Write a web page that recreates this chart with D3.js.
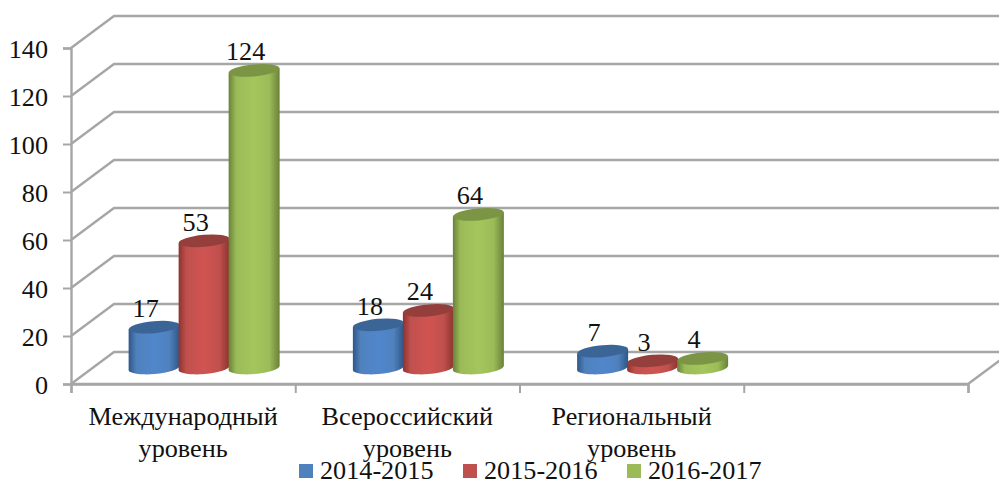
<!DOCTYPE html>
<html><head><meta charset="utf-8">
<script src="https://cdn.jsdelivr.net/npm/d3@7"></script>
<style>
html,body{margin:0;padding:0;background:#fff;overflow:hidden}
svg{display:block}
text{font-family:"Liberation Serif","Times New Roman",serif;font-size:26.2px;fill:#111}
</style></head><body>
<svg id="c" width="999" height="481"></svg>
<script>
const categories = [["Международный","уровень"],["Всероссийский","уровень"],["Региональный","уровень"],[]];
const seriesNames = ["2014-2015","2015-2016","2016-2017"];
const values2014 = [17,18,7];
const values2015 = [53,24,3];
const values2016 = [124,64,4];
const yTicks = [0,20,40,60,80,100,120,140];
const colors = ["#4f81bd","#c0504d","#9bbb59"];
const edgeColors = ["#2f5687","#8c3330","#6a8238"];
const midColors = ["#5087cc","#d05452","#a4c65c"];
const topColors = ["#3b6597","#953f3c","#7b9545"];

const W=999,H=481, left=71, right=968, y0=384, y140=48, dx=43, dy=-32;
const svg=d3.select("#c");
const x=d3.scaleBand().domain(d3.range(categories.length)).range([left,right]).padding(0);
const y=d3.scaleLinear().domain([0,140]).range([y0,y140]);
const gridCol="#a6a6a6";

const defs=svg.append("defs");
colors.forEach((c,i)=>{
  const g=defs.append("linearGradient").attr("id","g"+i).attr("x1",0).attr("x2",1).attr("y1",0).attr("y2",0);
  [[0,edgeColors[i]],[.15,colors[i]],[.5,midColors[i]],[.8,colors[i]],[1,edgeColors[i]]].forEach(s=>
    g.append("stop").attr("offset",s[0]).attr("stop-color",s[1]));
});

// walls
const grid=svg.append("g").attr("fill","none").attr("stroke",gridCol).attr("stroke-width",2.4);
grid.selectAll("path").data(yTicks).join("path")
  .attr("d",t=>`M${left},${y(t)}L${left+dx},${y(t)+dy}L${W+5},${y(t)+dy}`);
grid.append("path").attr("d",`M${left},${y0}L${right},${y0}L${right+dx},${y0+dy}`);

// axes
const yAxis=svg.append("g").attr("transform",`translate(${left},0)`)
  .call(d3.axisLeft(y).tickValues(yTicks).tickSize(8).tickPadding(15));
const xAxis=svg.append("g").attr("transform",`translate(0,${y0})`)
  .call(d3.axisBottom(d3.scaleLinear().domain([0,4]).range([left,right])).tickValues(d3.range(5)).tickSize(9).tickFormat(""));
[yAxis,xAxis].forEach(a=>{
  a.selectAll("path.domain").attr("stroke",gridCol).attr("stroke-width",2.4);
  a.selectAll("line").attr("stroke",gridCol).attr("stroke-width",2);
});
yAxis.selectAll("text").attr("fill","#111").attr("dy","9");

// cylinders
const all=[values2014,values2015,values2016];
const barW=51, ry=6, baseY=y(0)-16, tilt=-5;
const offsets=[-29,21,71];
const series=svg.append("g");
const rx=barW/2;
const hy=rx*Math.sin(tilt*Math.PI/180);
all.forEach((vals,s)=>{
  vals.forEach((v,c)=>{
    const cx=x(c)+x.bandwidth()/2+offsets[s];
    const topY=baseY-(y(0)-y(v));
    const g=series.append("g");
    g.append("ellipse").attr("cx",cx).attr("cy",baseY).attr("rx",rx).attr("ry",ry)
      .attr("transform",`rotate(${tilt} ${cx} ${baseY})`).attr("fill",`url(#g${s})`);
    g.append("path").attr("fill",`url(#g${s})`)
      .attr("d",d3.line()([[cx-rx,topY-hy],[cx-rx,baseY-hy],[cx+rx,baseY+hy],[cx+rx,topY+hy]])+"Z");
    g.append("ellipse").attr("cx",cx).attr("cy",topY).attr("rx",rx).attr("ry",ry)
      .attr("transform",`rotate(${tilt} ${cx} ${topY})`).attr("fill",topColors[s]);
  });
});
all.forEach((vals,s)=>{
  vals.forEach((v,c)=>{
    const cx=x(c)+x.bandwidth()/2+offsets[s];
    const topY=baseY-(y(0)-y(v));
    svg.append("text").attr("x",cx-8.5).attr("y",topY-10).attr("text-anchor","middle").text(v);
  });
});

// category labels
categories.forEach((lines,i)=>{
  lines.forEach((t,j)=>{
    svg.append("text").attr("x",x(i)+x.bandwidth()/2).attr("y",425+j*32).attr("text-anchor","middle").text(t);
  });
});

// legend
const legendX=[299,463,627];
seriesNames.forEach((n,i)=>{
  svg.append("rect").attr("x",legendX[i]).attr("y",464).attr("width",14).attr("height",14).attr("fill",colors[i]);
  svg.append("text").attr("x",legendX[i]+21).attr("y",479).text(n);
});
</script></body></html>
